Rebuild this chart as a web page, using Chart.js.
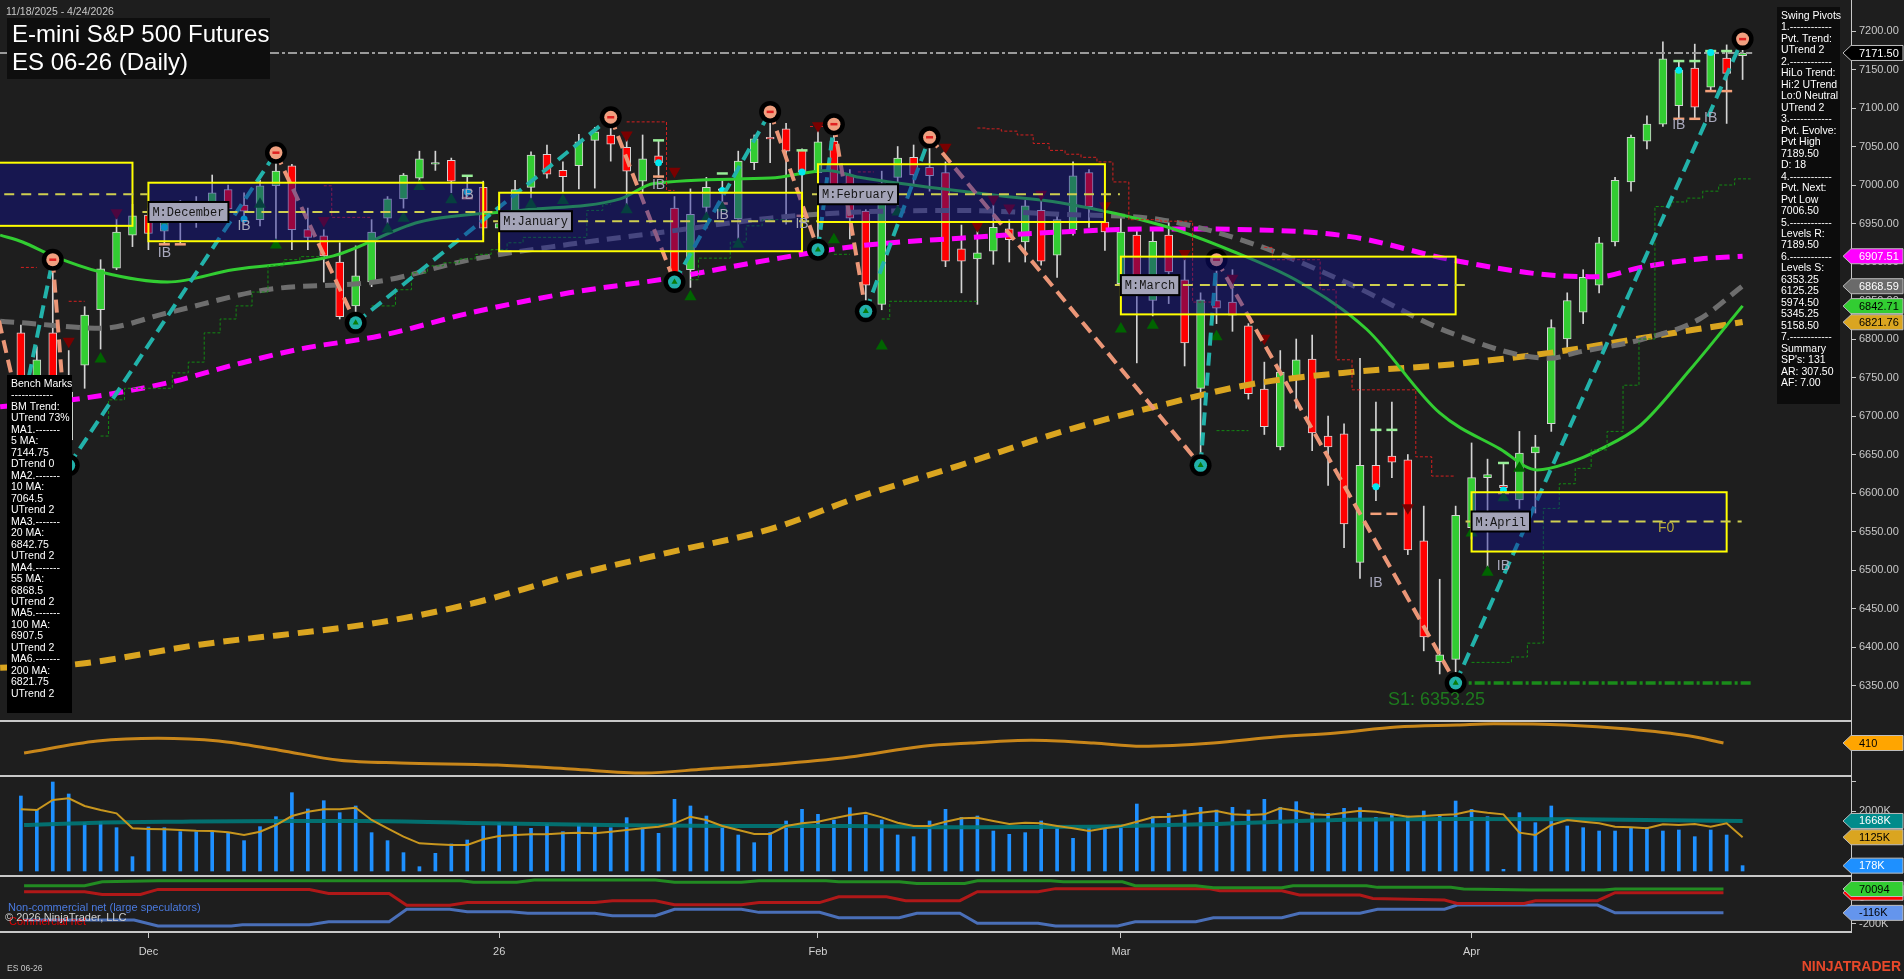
<!DOCTYPE html>
<html>
<head>
<meta charset="utf-8">
<title>ES 06-26 (Daily)</title>
<script src="https://cdn.jsdelivr.net/npm/chart.js@4.4.1/dist/chart.umd.min.js"></script>
<style>
  html, body { margin:0; padding:0; background:#1e1e1e; overflow:hidden; }
  #wrap { position:relative; width:1904px; height:979px; }
  canvas { display:block; }
</style>
</head>
<body>
<div id="wrap"><canvas id="chart" width="1904" height="979"></canvas></div>
<script>
const FONT = '"Liberation Sans", Arial, sans-serif';

// ---------------- DATA ----------------
const firstBar = 1; // bar index of 11/18/2025
const monthTickIdx = [9, 31, 51, 70, 92];
const monthTickLabels = ['Dec', '26', 'Feb', 'Mar', 'Apr'];
const priceTicks = [6350,6400,6450,6500,6550,6600,6650,6700,6750,6800,6850,6900,6950,7000,7050,7100,7150,7200];

const opens = [6808,6725,6808,6669,6766,6838,6892,6935,6961,6940,
 6955,6960,6977,6994,6974,6955,6999,7025,6942,6934,
 6900,6843,6874,6957,6982,7009,7027,7032,6995,6997,
 6944,6947,6997,7040,7019,7025,7058,7065,7049,7005,
 7038,6970,6890,6971,6995,6956,7029,7062,7073,7045,
 7016,7057,7013,6966,6845,7010,7036,7023,7016,6917,
 6904,6914,6943,6926,6967,6909,6942,7016,6952,6872,
 6935,6850,6935,6877,6736,6850,6848,6817,6735,6660,
 6752,6774,6674,6677,6510,6636,6648,6643,6538,6381,
 6384,6555,6620,6610,6591,6652,6690,6800,6835,6870,
 6926,7004,7057,7079,7103,7152,7127,7165,7168];
const highs = [6818,6790,6903,6785,6842,6903,6956,6975,6970,6974,
 6980,6985,7013,7000,6990,7006,7042,7027,6970,6942,
 6925,6921,6955,6985,7015,7044,7044,7035,7012,7005,
 6975,7006,7043,7052,7030,7066,7075,7088,7066,7065,
 7058,6985,6995,7010,7008,7044,7065,7095,7080,7047,
 7070,7079,7020,6968,7018,7050,7052,7062,7030,6948,
 6940,6974,6955,6980,6985,6960,7030,7020,6980,6962,
 6945,6940,6951,6903,6860,6903,6890,6820,6770,6785,
 6800,6805,6700,6690,6775,6718,6718,6650,6583,6488,
 6583,6665,6644,6639,6680,6675,6825,6860,6890,6932,
 7010,7065,7090,7186,7161,7183,7175,7182,7189.5];
const lows = [6700,6705,6730,6636,6736,6787,6890,6920,6916,6923,
 6923,6945,6961,6955,6950,6947,6926,6916,6916,6874,
 6826,6821,6868,6950,6970,6998,7019,6990,6983,6935,
 6925,6941,6983,7009,6990,6995,6996,7031,6973,6991,
 7010,6874,6867,6960,6978,6921,7020,7029,6949,6960,
 6916,6975,6930,6836,6838,6973,7000,6992,6894,6860,
 6845,6897,6900,6900,6896,6880,6935,6945,6915,6857,
 6769,6830,6846,6765,6636,6820,6810,6722,6676,6656,
 6710,6655,6610,6529,6489,6590,6620,6520,6395,6365,
 6353.25,6540,6504,6600,6580,6574,6680,6785,6820,6860,
 6921,6992,7047,7076,7086,7086,7122,7080,7137];
const closes = [6725,6773,6745,6731,6831,6891,6939,6960,6937,6952,
 6962,6965,6990,6969,6966,6999,7018,6942,6932,6908,
 6829,6882,6939,6982,7013,7034,7029,7005,6992,6944,
 6950,6994,7039,7014,7011,7056,7069,7053,7018,7034,
 7029,6884,6962,6997,6993,7031,7060,7060,7044,7017,
 7056,6987,6957,6870,7002,7035,7013,7012,6901,6901,
 6912,6945,6929,6973,6901,6955,7012,6972,6939,6939,
 6874,6927,6887,6795,6851,6840,6831,6729,6686,6757,
 6773,6678,6660,6560,6636,6608,6640,6526,6413,6390,
 6571,6620,6624,6607,6652,6660,6815,6850,6880,6925,
 7006,7062,7079,7164,7149,7101,7173,7145,7171.5];

// volume in thousands
const volumes = [2500,2033,2967,2567,1611,1644,1444,478,1467,1444,
 1311,1311,1333,1289,1011,1478,1811,2611,2067,2344,
 1944,2167,1278,1011,611,144,589,900,1033,1500,
 1589,1500,1422,1567,1311,1533,1500,1444,1778,1444,
 1256,2389,2167,1833,1444,1200,944,1278,1667,2056,
 1889,1700,2111,1867,1700,1200,1144,1667,2056,1789,
 1833,1333,1222,1278,1667,1444,1089,1444,1389,1500,
 2233,1811,1922,2033,2122,2033,2122,2033,2389,2122,
 2311,1944,1922,2089,2111,1789,1900,1833,2000,1889,
 2333,2056,1811,56,1944,1611,2167,1500,1444,1333,
 1333,1456,1444,1333,1367,1144,1367,1200,178];
const volAvgFast = [2056,2033,2367,2422,2167,2033,1922,1422,1400,1389,
 1367,1344,1333,1289,1200,1311,1533,1833,1978,2056,
 2056,2111,1700,1422,1144,922,889,867,867,1056,
 1167,1200,1222,1222,1256,1278,1256,1311,1367,1422,
 1478,1589,1811,1700,1500,1367,1233,1233,1500,1589,
 1644,1756,1867,1944,1789,1611,1500,1500,1644,1756,
 1778,1667,1567,1611,1589,1500,1422,1333,1422,1500,
 1644,1789,1811,1867,1944,2000,1889,1867,1889,2089,
 2011,1889,1867,1944,2011,1978,1889,1811,1833,1867,
 1889,2011,1944,1889,1278,1200,1533,1700,1644,1589,
 1478,1456,1422,1556,1533,1567,1478,1589,1125];
const volAvgSlowIdx = [1.2,5.8,11.1,18,22.5,30.2,37.8,45.4,53,60.6,68.2,75.8,83.5,91.1,98.7,109];
const volAvgSlowVal = [1533,1611,1644,1667,1667,1589,1533,1500,1500,1456,1478,1567,1700,1733,1722,1668];

const oscIdx = [1.2,5.8,9.6,13.4,17.2,21,24.8,30.9,35.5,40.1,43.9,48.4,53,57.6,60.6,64.4,68.3,71.3,75.8,79.7,83.5,87.3,91.1,93.4,97.9,101.8,105.6,107.8];
const oscVal = [385,415,422,415,392,367,360,355,345,335,345,357,375,402,410,417,410,402,410,425,435,450,455,458,455,445,428,410];

// COT (thousands)
const cotGreenIdx = [1.2,5.0,6.1,9.6,28.6,29.4,32.1,33.2,40.8,42.0,46.2,47.3,51.5,52.3,56.1,57.2,60.2,61.0,65.6,66.4,70.1,70.9,74.7,75.8,80.1,80.8,85.4,86.1,90.7,91.5,95.7,100.3,101.0,107.8];
const cotGreenVal = [96,96,127,135,135,122,122,140,140,122,122,135,135,127,127,114,114,135,135,127,127,96,96,80,80,96,96,83,83,70,62,62,70,70];
const cotRedIdx = [1.2,5.0,6.1,8.5,9.6,19.1,20.3,24.1,25.2,27.9,29.0,37.0,38.1,40.8,42.0,46.2,47.3,51.1,52.3,55.3,56.5,59.9,61.0,64.8,65.9,75.5,76.2,80.1,81.2,85.0,85.8,90.3,91.1,95.3,96.0,99.9,101.0,107.8];
const cotRedVal = [49,49,28,28,67,67,36,36,-57,-57,-36,-36,-21,-21,-52,-52,-36,-36,10,10,-21,-21,49,49,73,73,57,57,23,23,-3,-16,-42,-42,-21,-21,41,41];
const cotBlueIdx = [1.2,8.1,9.6,14.2,14.9,19.1,20.3,24.1,25.2,27.9,29.0,31.7,32.8,37.0,38.1,40.8,42.0,46.2,47.3,51.1,52.3,56.1,57.2,59.9,61.0,64.8,65.9,69.8,70.9,74.7,75.8,80.1,81.2,85.0,86.1,90.3,91.1,99.9,101.0,107.8];
const cotBlueVal = [-172,-172,-218,-218,-208,-208,-185,-185,-88,-88,-107,-107,-119,-119,-138,-138,-88,-88,-112,-112,-154,-154,-119,-119,-197,-197,-218,-218,-185,-185,-154,-154,-119,-119,-88,-88,-55,-55,-116,-116];

// moving averages
const ma20Idx = [-0.3,1.1,3,6,10.2,14.3,20.6,26,32.3,38.6,40.7,48,51.6,53.6,62,66.2,72.5,77,81.2,85.4,90,93.8,96.1,98.2,100,102.6,105.7,109];
const ma20Val = [6935,6926,6908,6887,6874,6890,6908,6952,6967,6982,7002,7009,7019,7010,6987,6977,6948,6914,6874,6813,6704,6657,6630,6640,6656,6688,6760,6843];
const ma55Idx = [-0.3,1.1,6,10.2,16.4,23.5,29.2,35.4,41.7,48,53.6,59.9,66.2,72.5,78.1,84.4,90.7,96.9,98.7,102.6,106.3,109];
const ma55Val = [6823,6821,6814,6834,6864,6875,6903,6923,6940,6957,6965,6967,6962,6955,6925,6871,6808,6775,6783,6799,6826,6869];
const ma100Idx = [-0.3,4.2,10.2,14.3,18.5,23.5,29.2,35.4,41.7,48,53.6,59.9,66.2,72.5,78.1,84.4,90.7,96.9,100,102.6,106.3,109];
const ma100Val = [6712,6721,6743,6766,6787,6804,6834,6860,6879,6903,6921,6931,6939,6943,6942,6933,6903,6883,6881,6893,6904,6907.5];
const ma200Idx = [-0.3,4.2,12.2,23.5,29.2,35.4,41.7,48,53.6,59.9,66.2,72.5,78.1,84.4,90.7,96.9,102.6,109];
const ma200Val = [6373,6377,6403,6432,6456,6492,6523,6553,6595,6636,6679,6714,6741,6757,6767,6782,6801,6822];

// swing pivots zigzag
const zzIdx = [-1.5,1,3,4,17,22,38,42,48,51,52,54,58,75,76,91,109];
const zzVal = [6925,6700,6903,6636,7042,6821,7088,6874,7095,6916,7079,6836,7062,6636,6903,6353.25,7189.5];

// monthly boxes
const boxStart = [-5, 9, 31, 51, 70, 92];
const boxEnd   = [8, 30, 50, 69, 91, 108];
const boxHigh  = [7029, 7003, 6990, 7027, 6907, 6601];
const boxLow   = [6947, 6927, 6914, 6952, 6832, 6524];
const boxMid   = [6988, 6965, 6953, 6988, 6870, 6563];
const boxLabels = ['', 'M:December', 'M:January', 'M:February', 'M:March', 'M:April'];

// trailing stop steps
const greenStops = [
 [[6,6674],[7,6721],[8,6736],[9,6736],[10,6736],[11,6756],[12,6770],[13,6808],[14,6826],[15,6843],[16,6861],[17,6895],[18,6903],[19,6907],[20,6907]],
 [[23,6843],[24,6843],[25,6864],[26,6886],[27,6895],[28,6899],[29,6904],[30,6910],[31,6916],[32,6925],[33,6932],[34,6932],[35,6932],[36,6932],[37,6967],[38,6975]],
 [[43,6877],[44,6905],[45,6905],[46,6926],[47,6947],[48,6955],[49,6955]],
 [[52,6910],[53,6910]],
 [[55,6826],[56,6849],[57,6849],[58,6849],[59,6849],[60,6849],[61,6849]],
 [[76,6681],[77,6681],[78,6681]],
 [[92,6380],[93,6380],[94,6380],[95,6387],[96,6405],[97,6580],[98,6612],[99,6632],[100,6656],[101,6680],[102,6740],[103,6800],[104,6972],[105,6978],[106,6983],[107,6992],[108,7000],[109,7008],[109.5,7008]]
];
const redStops = [
 [[1,6893],[2,6893]],
 [[4,6849],[5,6849]],
 [[20,6999],[21,6958],[22,6958],[23,6958]],
 [[39,7082],[40,7082],[41,7082],[42,6993]],
 [[50.5,7076],[51.5,7076]],
 [[53.5,7017],[54.5,7017]],
 [[61,7074],[62,7073],[63,7070],[64,7065],[65,7054],[66,7045],[67,7040],[68,7036],[69,7030],[70,7004],[71,6955],[72,6955],[73,6953],[74,6953],[75,6848],[76,6848]],
 [[79,6919],[80,6903],[81,6903],[82,6903],[83,6864],[84,6773],[85,6734],[86,6734],[87,6734],[88,6734],[89,6647],[90,6622],[91,6622]]
];

const upTriIdx = [6,16,17,24,25,26,28,33,35,39,43,44,45,46,52,55,56,70,72,76,92,93,94,95];
const upTriVal = [6774,6975,6922,6943,6957,6998,6981,6975,6980,6968,6855,6957,6970,6923,6929,6791,6965,6813,6818,6803,6548,6497,6594,6632];
const dnTriIdx = [4,7,20,39,42,51,59,61,62,63,65,69,74,77,79,88];
const dnTriVal = [6797,6964,6954,7065,7018,7077,7049,6947,6982,6970,6988,6973,6911,6879,6801,6581];
const cyanIdx = [10,15,29,41,45,50,86,94,105,107];
const cyanVal = [6945,6956,6991,7029,6993,7017,6608,6604,7149,7172];
const ibIdx = [10,15,29,41,45,50,86,94,105,107];
const ibVal = [6912,6947,6987,7000,6961,6949,6483,6505,7078,7087];
// inside-bar range marks (prior bar high / low)
const rangeMarkIdx = [10,11,29,41,45,50,86,87,94,105,106,107,108];
const rangeMarkHi  = [6974,6974,7012,7058,7015,7045,6682,6682,6639,7161,7161,7174,7174];
const rangeMarkLo  = [6923,6923,6983,7011,6976,6960,6573,6573,6600,7086,7086,7122,7122];

const lastPrice = 7171.5;
const supportS1 = 6353.25;
const priceTagVals = [7171.50, 6907.51, 6868.59, 6842.71, 6821.76];
const priceTagFill = ['#000000', '#ff00ff', '#6a6a6a', '#32cd32', '#daa520'];
const priceTagText = ['#ffffff', '#ffffff', '#ffffff', '#000000', '#000000'];

const swingLines = ["Swing Pivots","1.------------","Pvt. Trend:","UTrend 2","2.------------","HiLo Trend:","Hi:2 UTrend","Lo:0 Neutral","UTrend 2","3.------------","Pvt. Evolve:","Pvt High","7189.50","D: 18","4.------------","Pvt. Next:","Pvt Low","7006.50","5.------------","Levels R:","7189.50","6.------------","Levels S:","6353.25","6125.25","5974.50","5345.25","5158.50","7.------------","Summary","SP's: 131","AR: 307.50","AF: 7.00"];
const benchLines = ["Bench Marks","------------","BM Trend:","UTrend 73%","MA1.-------","5 MA:","7144.75","DTrend 0","MA2.-------","10 MA:","7064.5","UTrend 2","MA3.-------","20 MA:","6842.75","UTrend 2","MA4.-------","55 MA:","6868.5","UTrend 2","MA5.-------","100 MA:","6907.5","UTrend 2","MA6.-------","200 MA:","6821.75","UTrend 2"];

// ---------------- BUILD ----------------
const pts = (idx, val) => idx.map((x, k) => ({x, y: val[k]}));
const pairPts = arr => arr.map(p => ({x: p[0], y: p[1]}));
const barX = opens.map((_, k) => firstBar + k);

const datasets = [];
const base = (o) => Object.assign({xAxisID:'x', pointRadius:0, fill:false}, o);

// pivots circles
const pivotPts = [], pivotCols = [], pivotHiPts = [], pivotLoPts = [];
for (let k = 1; k < zzIdx.length; k++) {
  const p = {x: zzIdx[k], y: zzVal[k]};
  pivotPts.push(p);
  const isHigh = zzVal[k] > zzVal[k-1];
  pivotCols.push(isHigh ? '#f0a080' : '#22b0aa');
  (isHigh ? pivotHiPts : pivotLoPts).push(p);
}
datasets.push(base({type:'line', yAxisID:'yP', data:pivotHiPts, showLine:false, pointStyle:'line', pointRadius:3.5, pointBorderColor:'#e02020', pointBorderWidth:2.5, order:0}));
datasets.push(base({type:'line', yAxisID:'yP', data:pivotLoPts, showLine:false, pointStyle:'triangle', pointRadius:3.5, pointBackgroundColor:'#0a7a0a', pointBorderWidth:0, order:0}));
datasets.push(base({type:'line', yAxisID:'yP', data:pivotPts, showLine:false, pointRadius:6.5, pointBackgroundColor:pivotCols, pointBorderWidth:0, order:1}));
datasets.push(base({type:'line', yAxisID:'yP', data:pivotPts, showLine:false, pointRadius:11, pointBackgroundColor:'#000', pointBorderWidth:0, order:2}));
datasets.push(base({type:'line', yAxisID:'yP', data:pts(zzIdx, zzVal), borderWidth:4, borderDash:[13,7], borderColor:'#22b2aa',
  segment:{borderColor: c => c.p1.parsed.y > c.p0.parsed.y ? '#22b2aa' : '#eb9677'}, order:3}));

// markers
datasets.push(base({type:'line', yAxisID:'yP', data:pts(upTriIdx, upTriVal), showLine:false, pointStyle:'triangle', pointRadius:7, pointBackgroundColor:'#006400', pointBorderWidth:0, order:4}));
datasets.push(base({type:'line', yAxisID:'yP', data:pts(dnTriIdx, dnTriVal), showLine:false, pointStyle:'triangle', pointRotation:180, pointRadius:7, pointBackgroundColor:'#7a0000', pointBorderWidth:0, order:4}));
datasets.push(base({type:'line', yAxisID:'yP', data:pts(cyanIdx, cyanVal), showLine:false, pointRadius:3.5, pointBackgroundColor:'#00e8f0', pointBorderWidth:0, order:4}));
datasets.push(base({type:'line', yAxisID:'yP', data:pts(rangeMarkIdx, rangeMarkHi), showLine:false, pointStyle:'line', pointRadius:5.5, pointBorderColor:'#98ee98', pointBorderWidth:2.5, order:4}));
datasets.push(base({type:'line', yAxisID:'yP', data:pts(rangeMarkIdx, rangeMarkLo), showLine:false, pointStyle:'line', pointRadius:5.5, pointBorderColor:'#f4a07a', pointBorderWidth:2.5, order:4}));

// horizontal references
datasets.push(base({type:'line', yAxisID:'yP', data:[{x:-0.31, y:lastPrice},{x:109.6, y:lastPrice}], borderColor:'#9a9a9a', borderWidth:2, borderDash:[9,3,3,3], order:5}));
datasets.push(base({type:'line', yAxisID:'yP', data:[{x:91, y:supportS1},{x:109.6, y:supportS1}], borderColor:'#1a8c1a', borderWidth:3.5, borderDash:[10,3,3,3], order:5}));

// stops
greenStops.forEach(seg => datasets.push(base({type:'line', yAxisID:'yP', data:pairPts(seg), stepped:'middle', borderColor:'#138a13', borderWidth:1, borderDash:[3,2], order:6})));
redStops.forEach(seg => datasets.push(base({type:'line', yAxisID:'yP', data:pairPts(seg), stepped:'middle', borderColor:'#d42020', borderWidth:1, borderDash:[3,2], order:6})));

// moving averages
datasets.push(base({type:'line', yAxisID:'yP', data:pts(ma20Idx, ma20Val), borderColor:'#32cd32', borderWidth:3, cubicInterpolationMode:'monotone', order:7}));
datasets.push(base({type:'line', yAxisID:'yP', data:pts(ma55Idx, ma55Val), borderColor:'#6e6e6e', borderWidth:5, borderDash:[14,8], cubicInterpolationMode:'monotone', order:8}));
datasets.push(base({type:'line', yAxisID:'yP', data:pts(ma100Idx, ma100Val), borderColor:'#ff00ff', borderWidth:5, borderDash:[14,8], cubicInterpolationMode:'monotone', order:9}));
datasets.push(base({type:'line', yAxisID:'yP', data:pts(ma200Idx, ma200Val), borderColor:'#daa520', borderWidth:6, borderDash:[16,9], cubicInterpolationMode:'monotone', order:10}));

// candles
datasets.push(base({type:'bar', yAxisID:'yP', data:barX.map((x,k)=>({x, y:[opens[k], closes[k]]})),
  backgroundColor:barX.map((x,k)=> closes[k] >= opens[k] ? '#32cd32' : '#ff0000'),
  borderColor:'#d4d4d4', borderWidth:1, borderSkipped:false, barThickness:8, grouped:false, order:20}));
datasets.push(base({type:'bar', yAxisID:'yP', data:barX.map((x,k)=>({x, y:[lows[k], highs[k]]})),
  backgroundColor:'#d4d4d4', borderWidth:0, barThickness:1, grouped:false, order:21}));

// oscillator
datasets.push(base({type:'line', yAxisID:'yO', data:pts(oscIdx, oscVal), borderColor:'#c8861a', borderWidth:3, cubicInterpolationMode:'monotone', order:22}));

// volume
datasets.push(base({type:'line', yAxisID:'yV', data:pts(barX, volAvgFast), borderColor:'#c8961e', borderWidth:2, order:23}));
datasets.push(base({type:'line', yAxisID:'yV', data:pts(volAvgSlowIdx, volAvgSlowVal), borderColor:'rgba(0,120,120,0.9)', borderWidth:4, cubicInterpolationMode:'monotone', order:24}));
datasets.push(base({type:'bar', yAxisID:'yV', data:pts(barX, volumes), backgroundColor:'#1e90ff', barThickness:3, grouped:false, order:30}));

// COT
datasets.push(base({type:'line', yAxisID:'yC', data:pts(cotGreenIdx, cotGreenVal), borderColor:'#228b22', borderWidth:3, order:25}));
datasets.push(base({type:'line', yAxisID:'yC', data:pts(cotRedIdx, cotRedVal), borderColor:'#b01818', borderWidth:3, order:25}));
datasets.push(base({type:'line', yAxisID:'yC', data:pts(cotBlueIdx, cotBlueVal), borderColor:'#4a6fb8', borderWidth:3, order:25}));

// ---------------- PLUGINS ----------------
const bgPlugin = {
  id:'bg',
  beforeDraw(chart){ const c = chart.ctx; c.save(); c.fillStyle = '#1e1e1e'; c.fillRect(0,0,chart.width,chart.height); c.restore(); }
};

const overlayPlugin = {
  id:'overlay',
  afterDatasetsDraw(chart){
    const c = chart.ctx, x = chart.scales.x, yP = chart.scales.yP;
    c.save();
    c.beginPath(); c.rect(0, yP.top, chart.chartArea.right, yP.bottom - yP.top); c.clip();
    for (let k = 0; k < boxStart.length; k++) {
      const x1 = x.getPixelForValue(boxStart[k]), x2 = x.getPixelForValue(boxEnd[k]);
      const y1 = yP.getPixelForValue(boxHigh[k]), y2 = yP.getPixelForValue(boxLow[k]), ym = yP.getPixelForValue(boxMid[k]);
      c.fillStyle = 'rgba(15,15,150,0.42)';
      c.fillRect(x1, y1, x2 - x1, y2 - y1);
      c.setLineDash([]); c.strokeStyle = '#ffff00'; c.lineWidth = 2;
      c.strokeRect(x1, y1, x2 - x1, y2 - y1);
      c.strokeStyle = '#cfcf50'; c.setLineDash([10,7]);
      c.beginPath(); c.moveTo(x1 - 6, ym); c.lineTo(x2 + 15, ym); c.stroke();
    }
    c.setLineDash([]);
    c.font = '12px "Liberation Mono", monospace';
    c.textBaseline = 'middle'; c.textAlign = 'left';
    for (let k = 0; k < boxStart.length; k++) {
      if (!boxLabels[k]) continue;
      const x1 = x.getPixelForValue(boxStart[k]), ym = yP.getPixelForValue(boxMid[k]);
      const w = c.measureText(boxLabels[k]).width + 8;
      c.fillStyle = '#a4a4b8'; c.fillRect(x1, ym - 10, w, 20);
      c.strokeStyle = '#000'; c.lineWidth = 2; c.strokeRect(x1, ym - 10, w, 20);
      c.fillStyle = '#151515'; c.fillText(boxLabels[k], x1 + 4, ym + 1);
    }
    c.restore();
  }
};

function drawTag(c, y, text, fill, color) {
  const tip = 1843, left = 1851, right = 1903, h = 7.5;
  c.beginPath();
  c.moveTo(tip, y); c.lineTo(left, y - h); c.lineTo(right, y - h); c.lineTo(right, y + h); c.lineTo(left, y + h); c.closePath();
  c.fillStyle = fill; c.fill();
  c.strokeStyle = '#bdbdbd'; c.lineWidth = 1; c.stroke();
  c.fillStyle = color; c.font = '11px ' + FONT; c.textAlign = 'left'; c.textBaseline = 'middle';
  c.fillText(text, 1859, y + 0.5);
}

const textPlugin = {
  id:'texts',
  afterDraw(chart){
    const c = chart.ctx, s = chart.scales, x = s.x, yP = s.yP, yO = s.yO, yV = s.yV, yC = s.yC;
    const R = chart.chartArea.right;
    c.save();
    // panel separators
    c.strokeStyle = '#c8c8c8'; c.lineWidth = 2; c.setLineDash([]);
    [yP.bottom, yO.bottom, yV.bottom].forEach(y => { c.beginPath(); c.moveTo(0, y); c.lineTo(R, y); c.stroke(); });

    // IB labels
    c.font = '14px ' + FONT; c.fillStyle = '#a8a8bc'; c.textAlign = 'center'; c.textBaseline = 'middle';
    ibIdx.forEach((v, k) => c.fillText('IB', x.getPixelForValue(v), yP.getPixelForValue(ibVal[k])));
    // F0
    c.fillStyle = '#b8aa3c'; c.fillText('F0', x.getPixelForValue(104.2), yP.getPixelForValue(6555));
    // S1
    c.font = '18px ' + FONT; c.fillStyle = '#1e7a1e'; c.textAlign = 'center';
    c.fillText('S1: ' + supportS1.toFixed(2), x.getPixelForValue(89.8), yP.getPixelForValue(supportS1) + 17);

    // value tags
    priceTagVals.forEach((v, k) => drawTag(c, yP.getPixelForValue(v), v.toFixed(2), priceTagFill[k], priceTagText[k]));
    drawTag(c, yO.getPixelForValue(oscVal[oscVal.length - 1]), String(oscVal[oscVal.length - 1]), '#ffa500', '#000');
    drawTag(c, yV.getPixelForValue(volAvgSlowVal[volAvgSlowVal.length - 1]), volAvgSlowVal[volAvgSlowVal.length - 1] + 'K', '#008b8b', '#fff');
    drawTag(c, yV.getPixelForValue(volAvgFast[volAvgFast.length - 1]), volAvgFast[volAvgFast.length - 1] + 'K', '#daa520', '#000');
    drawTag(c, yV.getPixelForValue(volumes[volumes.length - 1]), volumes[volumes.length - 1] + 'K', '#1e90ff', '#fff');
    drawTag(c, yC.getPixelForValue(cotRedVal[cotRedVal.length - 1]), '', '#ff0000', '#000');
    drawTag(c, yC.getPixelForValue(70.094), '70094', '#32cd32', '#000');
    drawTag(c, yC.getPixelForValue(cotBlueVal[cotBlueVal.length - 1]), cotBlueVal[cotBlueVal.length - 1] + 'K', '#6495ed', '#000');

    // date range
    c.textAlign = 'left'; c.textBaseline = 'alphabetic';
    c.font = '10.5px ' + FONT; c.fillStyle = '#c8c8c8';
    c.fillText('11/18/2025 - 4/24/2026', 6, 15);
    // title
    c.fillStyle = '#0e0e0e'; c.fillRect(7, 18, 263, 61);
    c.fillStyle = '#ffffff'; c.font = '24px ' + FONT;
    c.fillText('E-mini S&P 500 Futures', 12, 42);
    c.fillText('ES 06-26 (Daily)', 12, 70);

    // swing pivots box
    c.fillStyle = '#0c0c0c'; c.fillRect(1777, 7, 63, 397);
    c.fillStyle = '#ffffff'; c.font = '10.5px ' + FONT; c.textBaseline = 'middle';
    swingLines.forEach((t, k) => c.fillText(t, 1781, 16 + k * 11.48));
    // bench marks box
    c.fillStyle = '#000000'; c.fillRect(7, 375, 65, 338);
    c.fillStyle = '#ffffff';
    benchLines.forEach((t, k) => c.fillText(t, 11, 384 + k * 11.48));

    // COT legend + copyright
    c.font = '11px ' + FONT;
    c.fillStyle = '#e00000'; c.fillText('Commercial net', 9, 922);
    c.fillStyle = '#4a7ae0'; c.fillText('Non-commercial net (large speculators)', 8, 908);
    c.fillStyle = '#d0d0d0'; c.fillText('\u00A9 2026 NinjaTrader, LLC', 5, 918);

    // footer
    c.font = '8.5px ' + FONT; c.fillStyle = '#c8c8c8'; c.fillText('ES 06-26', 7, 969);
    c.font = 'bold 14px ' + FONT; c.fillStyle = '#e8482a'; c.textAlign = 'right';
    c.fillText('NINJATRADER', 1901, 967);
    c.restore();
  }
};

// ---------------- SCALES ----------------
function yScale(weight, min, max, ticks, fmt) {
  return {
    type:'linear', position:'right', stack:'panes', stackWeight:weight, min, max,
    grid:{ drawOnChartArea:false, drawTicks:true, tickLength:5, color:'#c8c8c8', offset:false },
    border:{ display:true, color:'#c8c8c8', width:1 },
    ticks:{ color:'#c8c8c8', font:{family:'Liberation Sans', size:11}, padding:3, autoSkip:false, callback: fmt },
    afterBuildTicks: sc => { sc.ticks = ticks.map(v => ({value:v})); },
    afterFit: sc => { sc.width = 53; sc.paddingTop = 0; sc.paddingBottom = 0; }
  };
}

Chart.defaults.font.family = 'Liberation Sans';

new Chart(document.getElementById('chart'), {
  type:'bar',
  data:{ datasets },
  options:{
    responsive:false, animation:false, devicePixelRatio:1, events:[],
    layout:{ padding:0, autoPadding:false },
    plugins:{ legend:{display:false}, tooltip:{enabled:false}, title:{display:false} },
    scales:{
      x:{
        type:'linear', min:-0.31, max:115.8, offset:false, position:'bottom',
        grid:{ drawOnChartArea:false, drawTicks:true, tickLength:6, color:'#c8c8c8', offset:false },
        border:{ display:true, color:'#c8c8c8', width:2 },
        ticks:{ color:'#d2d2d2', font:{family:'Liberation Sans', size:11}, padding:7, maxRotation:0, autoSkip:false,
          callback: v => { const i = monthTickIdx.indexOf(v); return i >= 0 ? monthTickLabels[i] : ''; } },
        afterBuildTicks: sc => { sc.ticks = monthTickIdx.map(v => ({value:v})); },
        afterFit: sc => { sc.height = 47; sc.paddingLeft = 0; sc.paddingRight = 0; }
      },
      yP: yScale(721, 6303.9, 7240.3, priceTicks, v => Number(v).toFixed(2)),
      yO: yScale(55, 327.5, 465, [], v => ''),
      yV: yScale(100, -167, 3167, [2000, 3000], v => v === 2000 ? '2000K' : ''),
      yC: yScale(56, -265.2, 171.6, [0, -200], v => v === 0 ? '0' : '-200K')
    }
  },
  plugins:[bgPlugin, overlayPlugin, textPlugin]
});
</script>
</body>
</html>
